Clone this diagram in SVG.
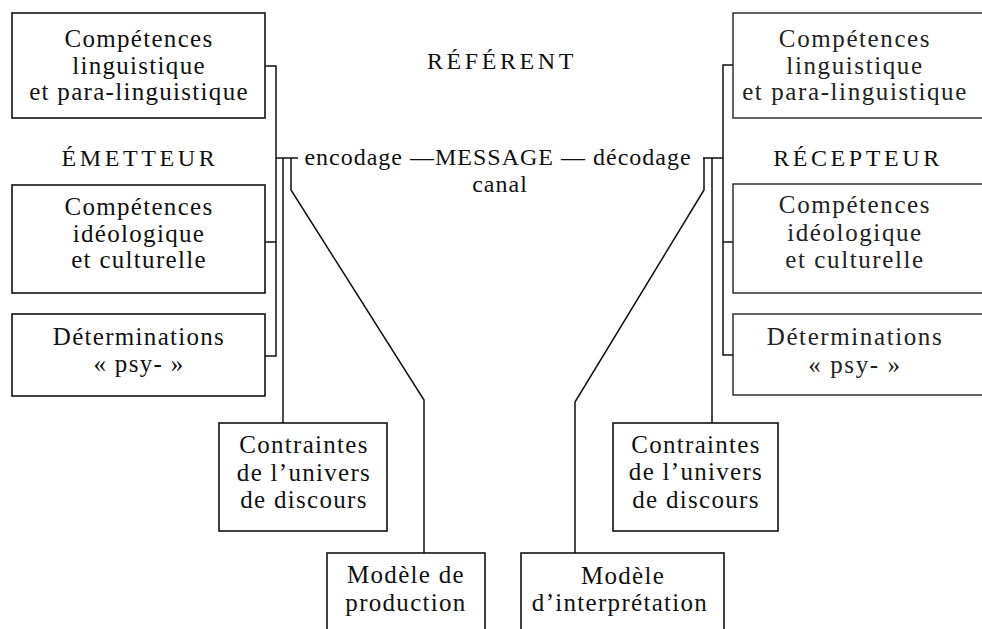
<svg xmlns="http://www.w3.org/2000/svg" width="982" height="629" viewBox="0 0 982 629">
<style>
.bg{fill:#fff}
.box{fill:none;stroke:#111;stroke-width:1.6}
.rbox{fill:none;stroke:#222;stroke-width:1.4}
.ln{fill:none;stroke:#111;stroke-width:1.5}
text{font-family:"Liberation Serif","Times New Roman",serif;fill:#111;text-anchor:middle}
.t{font-size:25px;letter-spacing:1.3px}
.rt{font-size:25px;letter-spacing:1.6px;fill:#222}
.lab{font-size:24px;letter-spacing:3.6px}
.msg{font-size:24px;letter-spacing:1px}
</style>
<rect class="bg" x="0" y="0" width="982" height="629"/>
<g id="connectors">
<path class="ln" d="M265,66 H276 V356 H265 M265,242 H276 M276,158 H298 M283,158 V423 M291,158 V190 L424,400 V553"/>
<path class="ln" d="M733,65 H723 V355 H733 M733,242 H723 M723,158 H703 M712,158 V423 M704,158 V190 L575,402 V553"/>
</g>
<g id="referent"><text class="lab" x="502" y="69">RÉFÉRENT</text></g>
<g id="emetteur"><text class="lab" x="140" y="166">ÉMETTEUR</text></g>
<g id="recepteur"><text class="lab" x="858" y="166">RÉCEPTEUR</text></g>
<g id="message">
<text class="msg" x="498" y="165">encodage —MESSAGE — décodage</text>
<text class="msg" x="500" y="192">canal</text>
</g>
<g id="e-ling">
<rect class="box" x="12" y="13" width="253" height="105"/>
<text class="t" x="139" y="47">Compétences</text>
<text class="t" x="139" y="74">linguistique</text>
<text class="t" x="139" y="100">et para-linguistique</text>
</g>
<g id="e-ideo">
<rect class="box" x="12" y="185" width="253" height="108"/>
<text class="t" x="139" y="215">Compétences</text>
<text class="t" x="139" y="242">idéologique</text>
<text class="t" x="139" y="268">et culturelle</text>
</g>
<g id="e-psy">
<rect class="box" x="12" y="314" width="253" height="82"/>
<text class="t" x="139" y="345">Déterminations</text>
<text class="t" x="139" y="372">« psy- »</text>
</g>
<g id="e-contraintes">
<rect class="box" x="219" y="423" width="168" height="108"/>
<text class="t" x="304" y="453">Contraintes</text>
<text class="t" x="304" y="481">de l’univers</text>
<text class="t" x="304" y="508">de discours</text>
</g>
<g id="e-modele">
<rect class="box" x="327" y="553" width="158" height="100"/>
<text class="t" x="406" y="583">Modèle de</text>
<text class="t" x="406" y="611">production</text>
</g>
<g id="r-ling">
<rect class="rbox" x="733" y="13" width="260" height="105"/>
<text class="rt" x="855" y="47">Compétences</text>
<text class="rt" x="855" y="74">linguistique</text>
<text class="rt" x="855" y="100">et para-linguistique</text>
</g>
<g id="r-ideo">
<rect class="rbox" x="733" y="184" width="260" height="109"/>
<text class="rt" x="855" y="213">Compétences</text>
<text class="rt" x="855" y="241">idéologique</text>
<text class="rt" x="855" y="268">et culturelle</text>
</g>
<g id="r-psy">
<rect class="rbox" x="733" y="314" width="260" height="81"/>
<text class="rt" x="855" y="345">Déterminations</text>
<text class="rt" x="855" y="373">« psy- »</text>
</g>
<g id="r-contraintes">
<rect class="box" x="613" y="423" width="165" height="108"/>
<text class="t" x="696" y="453">Contraintes</text>
<text class="t" x="696" y="480">de l’univers</text>
<text class="t" x="696" y="508">de discours</text>
</g>
<g id="r-modele">
<rect class="box" x="521" y="553" width="203" height="100"/>
<text class="t" x="623" y="584">Modèle</text>
<text class="t" x="620" y="611">d’interprétation</text>
</g>
</svg>
